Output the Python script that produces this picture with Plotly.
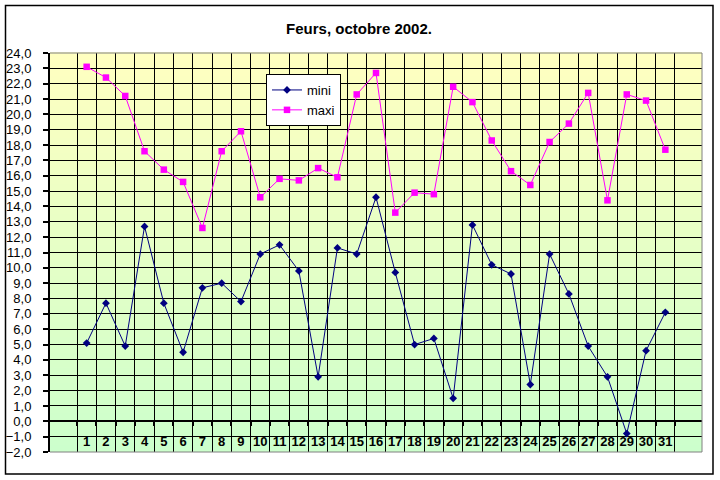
import plotly.graph_objects as go

days = ["1", "2", "3", "4", "5", "6", "7", "8", "9", "10", "11", "12", "13", "14", "15", "16",
        "17", "18", "19", "20", "21", "22", "23", "24", "25", "26", "27", "28", "29", "30", "31"]
mini = [5.1, 7.7, 4.9, 12.7, 7.7, 4.5, 8.7, 9.0, 7.8, 10.9, 11.5, 9.8, 2.9, 11.3, 10.9, 14.6,
        9.7, 5.0, 5.4, 1.5, 12.8, 10.2, 9.6, 2.4, 10.9, 8.3, 4.9, 2.9, -0.8, 4.6, 7.1]
maxi = [23.1, 22.4, 21.2, 17.6, 16.4, 15.6, 12.6, 17.6, 18.9, 14.6, 15.8, 15.7, 16.5, 15.9, 21.3, 22.7,
        13.6, 14.9, 14.8, 21.8, 20.8, 18.3, 16.3, 15.4, 18.2, 19.4, 21.4, 14.4, 21.3, 20.9, 17.7]
y_min, y_max = -2, 24
title = "Feurs, octobre 2002."

FONT = "Arial, Liberation Sans, sans-serif"
W, H = 720, 480
ML, MR, MT, MB = 50, 18, 53, 28

fig = go.Figure()
fig.add_trace(go.Scatter(x=days, y=mini, name="mini", mode="lines+markers",
                         line=dict(color="#000080", width=1),
                         marker=dict(symbol="diamond", size=6, color="#000080")))
fig.add_trace(go.Scatter(x=days, y=maxi, name="maxi", mode="lines+markers",
                         line=dict(color="#FF00FF", width=1),
                         marker=dict(symbol="square", size=6.5, color="#FF00FF")))

# gradient background (yellow top -> light green bottom)
shapes = []
nb = 52
top = (255, 255, 192)
bot = (204, 255, 204)
for i in range(nb):
    t = (i + 0.5) / nb
    c = tuple(round(bot[k] + (top[k] - bot[k]) * t) for k in range(3))
    shapes.append(dict(type="rect", xref="paper", yref="paper", x0=0, x1=1,
                       y0=i / nb, y1=(i + 1) / nb + 0.002, layer="below",
                       line=dict(width=0), fillcolor="rgb(%d,%d,%d)" % c))
# plot area border (grey top/right/bottom)
for (x0, y0, x1, y1) in [(0, 1, 1, 1), (1, 0, 1, 1), (0, 0, 1, 0)]:
    shapes.append(dict(type="line", xref="paper", yref="paper", x0=x0, y0=y0, x1=x1, y1=y1,
                       line=dict(color="#808080", width=1), layer="above"))
# outer chart frame
pw, ph = W - ML - MR, H - MT - MB
shapes.append(dict(type="rect", xref="paper", yref="paper",
                   x0=(5.5 - ML) / pw, x1=(713 - ML) / pw,
                   y0=(H - MB - 474) / ph, y1=(H - MB - 5.5) / ph,
                   line=dict(color="black", width=1.5), layer="above"))

fig.update_layout(
    width=W, height=H,
    margin=dict(l=ML, r=MR, t=MT, b=MB),
    paper_bgcolor="white", plot_bgcolor="white",
    separators=", ",
    font=dict(family=FONT, size=13, color="black"),
    title=dict(text="<b>" + title + "</b>", xref="container", yref="container",
               x=359 / W, xanchor="center", y=1 - 29 / H, yanchor="middle",
               font=dict(family=FONT, size=15, color="black")),
    showlegend=True,
    legend=dict(x=(266 - ML) / pw, y=(H - MB - 74) / ph, xanchor="left", yanchor="top",
                bgcolor="white", bordercolor="black", borderwidth=1,
                font=dict(family=FONT, size=13), itemwidth=30,
                tracegroupgap=0),
    shapes=shapes,
    xaxis=dict(type="category", tickson="boundaries", showgrid=True, gridcolor="black", gridwidth=1,
               anchor="free", position=(0 - y_min) / (y_max - y_min),
               showline=True, linecolor="black", linewidth=2,
               ticks="outside", ticklen=4, tickcolor="black", tickwidth=2, tickangle=0,
               tickfont=dict(family=FONT, size=13, color="black", weight="bold"),
               ticklabelstandoff=8, zeroline=False, fixedrange=True, automargin=False),
    yaxis=dict(range=[y_min, y_max], tickmode="linear", tick0=y_min, dtick=1, tickformat=".1f",
               showgrid=True, gridcolor="black", gridwidth=1, zeroline=False,
               showline=True, linecolor="black", linewidth=2,
               ticks="outside", ticklen=5, tickcolor="black", tickwidth=2,
               ticklabelstandoff=9,
               tickfont=dict(family=FONT, size=13, color="black"), fixedrange=True,
               automargin=False),
)

fig.write_html("out.html", config={"displayModeBar": False},
               post_script="document.body.style.margin='0px';")
